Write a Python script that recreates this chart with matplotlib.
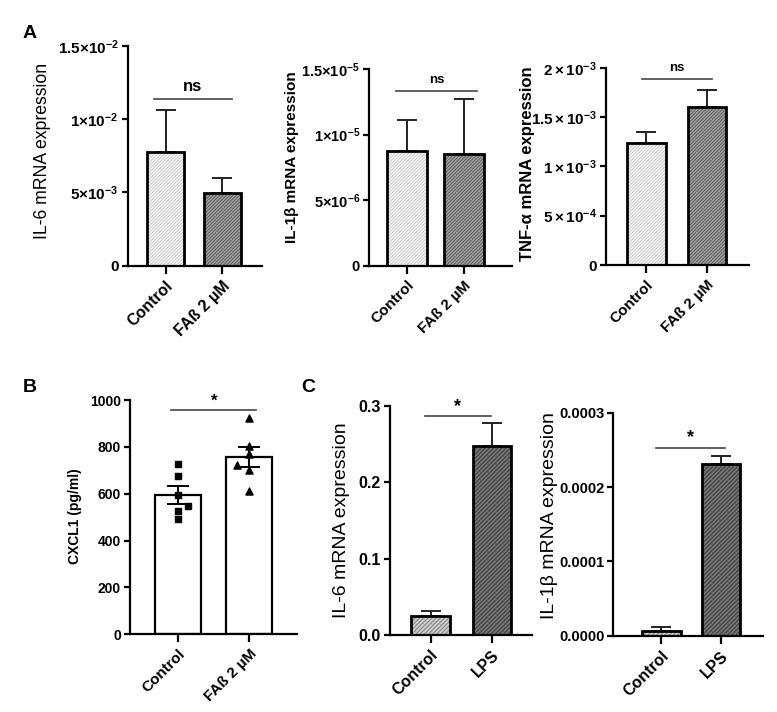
import numpy as np
import matplotlib.pyplot as plt
import matplotlib.ticker as mticker

plt.rcParams['font.family'] = ['Liberation Sans', 'DejaVu Sans']
plt.rcParams['font.weight'] = 'bold'
plt.rcParams['mathtext.fontset'] = 'custom'
plt.rcParams['mathtext.default'] = 'bf'
plt.rcParams['mathtext.bf'] = 'Liberation Sans:bold'
plt.rcParams['mathtext.rm'] = 'Liberation Sans:bold'
plt.rcParams['hatch.linewidth'] = 0.9

# ---- data ----
groups_fa = ['Control', 'FAß 2 µM']
groups_lps = ['Control', 'LPS']

il6_fa_mean = [7.75e-3, 4.98e-3]
il6_fa_sem = [2.85e-3, 0.98e-3]

il1b_fa_mean = [8.77e-6, 8.50e-6]
il1b_fa_sem = [2.32e-6, 4.24e-6]

tnfa_fa_mean = [1.234e-3, 1.600e-3]
tnfa_fa_sem = [0.111e-3, 0.177e-3]

cxcl1_control = [727, 676, 596, 549, 526, 492]
cxcl1_fa = [925, 804, 770, 723, 701, 612]

il6_lps_mean = [0.0249, 0.2468]
il6_lps_sem = [0.0061, 0.0301]

il1b_lps_mean = [6.7e-6, 2.314e-4]
il1b_lps_sem = [4.5e-6, 1.03e-5]

sig_fa = ['ns', 'ns', 'ns']
sig_b = '*'
sig_lps = ['*', '*']


def sci_label(v, pos=None):
    if v == 0:
        return '0'
    e = int(np.floor(np.log10(abs(v))))
    m = round(v / 10 ** e, 2)
    return r'$%g{\times}10^{%d}$' % (m, e)


def sci_label_wide(v, pos=None):
    if v == 0:
        return '0'
    e = int(np.floor(np.log10(abs(v))))
    m = round(v / 10 ** e, 2)
    return r'$%g\,{\times}\,10^{%d}$' % (m, e)


def style_axis(ax, ticksize, xticksize):
    for s in ['top', 'right']:
        ax.spines[s].set_visible(False)
    for s in ['left', 'bottom']:
        ax.spines[s].set_linewidth(1.6)
    ax.tick_params(direction='out', width=1.6, pad=2)
    ax.tick_params(axis='y', length=4.5, labelsize=ticksize)
    ax.tick_params(axis='x', length=6, labelsize=xticksize, pad=3)
    plt.setp(ax.get_xticklabels(), rotation=45, ha='right', va='top',
             rotation_mode='anchor')


def hatched_bars(ax, means, sems, width, fills, hatch_cols, capsize, hatch):
    x = np.arange(len(means))
    ax.errorbar(x, means, yerr=[np.zeros(len(means)), sems], fmt='none',
                ecolor='#222222', elinewidth=1.4, capsize=capsize, capthick=1.4,
                zorder=1)
    ax.bar(x, means, width, color=fills, edgecolor=hatch_cols, hatch=hatch,
           linewidth=0, zorder=2)
    ax.bar(x, means, width, fill=False, edgecolor='black', linewidth=2, zorder=3)
    return x


def sig(ax, x0, x1, y, text, size, offset=3):
    ax.plot([x0, x1], [y, y], color='#444444', lw=1.2, clip_on=False)
    ax.annotate(text, xy=((x0 + x1) / 2, y), xytext=(0, offset),
                textcoords='offset points', ha='center', va='bottom',
                fontsize=size, fontweight='bold', annotation_clip=False)


def ylabel(ax, text, x, y, size, weight):
    ax.text(x, y, text, transform=ax.transAxes, rotation=90, ha='center',
            va='center', fontsize=size, fontweight=weight)


fig = plt.figure(figsize=(7.77, 7.12), dpi=100)

fills_fa = ['#d2d2d2', '#636363']
hatch_fa = ['#f6f6f6', '#a4a4a4']
fills_lps = ['#d0d0d0', '#767676']
hatch_lps = ['#8c8c8c', '#444444']
hatch_a = '/' * 10
hatch_c = '/' * 8

# ---- A1: IL-6 ----
ax = fig.add_axes([0.1643, 0.6268, 0.1729, 0.3090])
x = hatched_bars(ax, il6_fa_mean, il6_fa_sem, 0.65, fills_fa, hatch_fa, 7, hatch_a)
ax.set_xlim(-0.671, 1.70)
ax.set_ylim(0, 0.015)
ax.yaxis.set_major_locator(mticker.MultipleLocator(0.005))
ax.yaxis.set_major_formatter(mticker.FuncFormatter(sci_label))
ax.set_xticks(x, groups_fa)
style_axis(ax, 11, 11.5)
sig(ax, -0.21, 1.17, 0.01135, sig_fa[0], 12, 4)
ylabel(ax, 'IL-6 mRNA expression', -0.631, 0.521, 12.7, 'normal')

# ---- A2: IL-1b ----
ax = fig.add_axes([0.4749, 0.6268, 0.1844, 0.2763])
x = hatched_bars(ax, il1b_fa_mean, il1b_fa_sem, 0.70, fills_fa, hatch_fa, 7, hatch_a)
ax.set_xlim(-0.67, 1.857)
ax.set_ylim(0, 1.5e-5)
ax.yaxis.set_major_locator(mticker.MultipleLocator(5e-6))
ax.yaxis.set_major_formatter(mticker.FuncFormatter(sci_label))
ax.set_xticks(x, groups_fa)
style_axis(ax, 10.5, 11)
sig(ax, -0.19, 1.23, 1.335e-5, sig_fa[1], 9.5, 3)
ylabel(ax, 'IL-1β mRNA expression', -0.539, 0.55, 11, 'bold')

# ---- A3: TNF-a ----
ax = fig.add_axes([0.7799, 0.6278, 0.1844, 0.2771])
x = hatched_bars(ax, tnfa_fa_mean, tnfa_fa_sem, 0.64, fills_fa, hatch_fa, 7, hatch_a)
ax.set_xlim(-0.664, 1.697)
ax.set_ylim(0, 2e-3)
ax.yaxis.set_major_locator(mticker.MultipleLocator(5e-4))
ax.yaxis.set_major_formatter(mticker.FuncFormatter(sci_label_wide))
ax.set_xticks(x, groups_fa)
style_axis(ax, 11, 11)
sig(ax, -0.07, 1.09, 1.882e-3, sig_fa[2], 9.5, 4)
ylabel(ax, 'TNF-α mRNA expression', -0.55, 0.512, 12, 'bold')

# ---- B: CXCL1 ----
ax = fig.add_axes([0.1673, 0.1091, 0.2145, 0.3291])
groups_b = [cxcl1_control, cxcl1_fa]
means_b = [np.mean(g) for g in groups_b]
sems_b = [np.std(g, ddof=1) / np.sqrt(len(g)) for g in groups_b]
xb = np.arange(2)
ax.bar(xb, means_b, 0.64, color='white', edgecolor='black', linewidth=1.6, zorder=1)
ax.errorbar(xb, means_b, yerr=sems_b, fmt='none', ecolor='black', elinewidth=1.4,
            capsize=8, capthick=1.4, zorder=3)
jitter_c = [0, 0, 0, 0.15, 0, 0]
jitter_f = [0, 0, 0, -0.17, 0, 0]
ax.scatter(xb[0] + np.array(jitter_c), cxcl1_control, marker='s', s=22,
           color='black', zorder=4)
ax.scatter(xb[1] + np.array(jitter_f), cxcl1_fa, marker='^', s=26,
           color='black', zorder=4)
ax.set_xlim(-0.666, 1.662)
ax.set_ylim(0, 1000)
ax.yaxis.set_major_locator(mticker.MultipleLocator(200))
ax.set_xticks(xb, groups_fa)
style_axis(ax, 10, 11)
sig(ax, -0.09, 1.10, 957, sig_b, 12, 1)
ylabel(ax, 'CXCL1 (pg/ml)', -0.33, 0.506, 10, 'bold')

# ---- C1: IL-6 LPS ----
ax = fig.add_axes([0.5019, 0.1081, 0.1824, 0.3221])
x = hatched_bars(ax, il6_lps_mean, il6_lps_sem, 0.63, fills_lps, hatch_lps, 7, hatch_c)
ax.set_xlim(-0.664, 1.648)
ax.set_ylim(0, 0.3)
ax.yaxis.set_major_locator(mticker.MultipleLocator(0.1))
ax.yaxis.set_major_formatter(mticker.FormatStrFormatter('%.1f'))
ax.set_xticks(x, groups_lps)
style_axis(ax, 11.5, 11.5)
sig(ax, -0.10, 0.99, 0.286, sig_lps[0], 13, 1)
ylabel(ax, 'IL-6 mRNA expression', -0.341, 0.50, 14, 'normal')

# ---- C2: IL-1b LPS ----
ax = fig.add_axes([0.7893, 0.1072, 0.1923, 0.3132])
x = hatched_bars(ax, il1b_lps_mean, il1b_lps_sem, 0.65, fills_lps, hatch_lps, 7, hatch_c)
ax.set_xlim(-0.804, 1.70)
ax.set_ylim(0, 3e-4)
ax.yaxis.set_major_locator(mticker.MultipleLocator(1e-4))
ax.yaxis.set_major_formatter(mticker.FormatStrFormatter('%.4f'))
ax.set_xticks(x, groups_lps)
style_axis(ax, 10.5, 11.5)
sig(ax, -0.09, 1.06, 2.53e-4, sig_lps[1], 13, 1)
ylabel(ax, 'IL-1β mRNA expression', -0.425, 0.538, 14, 'normal')

for letter, px, py in [('A', 30, 33), ('B', 30, 387), ('C', 308, 387)]:
    fig.text(px / 777, 1 - py / 712, letter, fontsize=14, fontweight='bold',
             ha='center', va='center')

fig.savefig('out.png', dpi=100)
